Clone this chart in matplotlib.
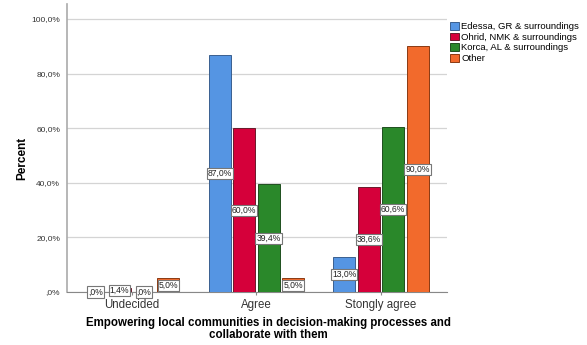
import matplotlib.pyplot as plt
import numpy as np

categories = ["Undecided", "Agree", "Stongly agree"]
series_names = ["Edessa, GR & surroundings", "Ohrid, NMK & surroundings",
                "Korca, AL & surroundings", "Other"]
edessa = [0.0, 87.0, 13.0]
ohrid = [1.4, 60.0, 38.6]
korca = [0.0, 39.4, 60.6]
other = [5.0, 5.0, 90.0]
yticks = [0, 20, 40, 60, 80, 100]
ytick_labels = [",0%", "20,0%", "40,0%", "60,0%", "80,0%", "100,0%"]

colors = ["#5595E3", "#D5003A", "#2A882A", "#F26A2C"]
edge_colors = ["#3a5f8f", "#6a1a2a", "#1f4f1f", "#8a3a12"]
series = [edessa, ohrid, korca, other]

plt.rcParams["font.family"] = ["Liberation Sans", "DejaVu Sans"]

fig = plt.figure(figsize=(5.87, 3.45), dpi=100)
ax = fig.add_axes([67 / 587, 1 - 292 / 345, (447 - 67) / 587, (292 - 4) / 345])

x = np.arange(len(categories))
width = 0.176
step = 0.196
for i, (vals, col) in enumerate(zip(series, colors)):
    pos = x + (i - 1.5) * step
    ax.bar(pos, vals, width=width, color=col, edgecolor=edge_colors[i],
           linewidth=0.7, label=series_names[i], zorder=3)
    for p, v in zip(pos, vals):
        txt = f"{v:.1f}".replace(".", ",") + "%"
        if v == 0:
            txt = ",0%"
        ax.text(p, v / 2, txt, ha="center", va="center", fontsize=6.2,
                color="#222222", zorder=5,
                bbox=dict(boxstyle="square,pad=0.12", fc="white",
                          ec="#777777", lw=0.8))

ax.set_xlim(-0.52, 2.53)
ax.set_ylim(0, 105.5)
ax.set_yticks(yticks)
ax.set_yticklabels(ytick_labels, fontsize=6.0, color="#333333")
ax.set_xticks(x)
ax.set_xticklabels(categories, fontsize=8.3, color="#333333")
ax.tick_params(axis="y", length=0, pad=5)
ax.tick_params(axis="x", length=2, color="#888888", pad=3)
ax.yaxis.grid(True, color="#d4d4d4", linewidth=0.9, zorder=0)
ax.set_axisbelow(True)
for s in ["top", "right"]:
    ax.spines[s].set_visible(False)
ax.spines["left"].set_color("#aaaaaa")
ax.spines["left"].set_linewidth(1.2)
ax.spines["bottom"].set_color("#888888")

fig.text(22 / 587, 1 - 158 / 345, "Percent", rotation=90, ha="center",
         va="center", fontsize=8.5, fontweight="bold")
fig.text(268 / 587, 1 - 329 / 345,
         "Empowering local communities in decision-making processes and\ncollaborate with them",
         ha="center", va="center", fontsize=8.3, fontweight="bold",
         linespacing=1.1)

leg = ax.legend(loc="upper left", bbox_to_anchor=(450 / 587, 1 - 22 / 345),
                bbox_transform=fig.transFigure, frameon=False, fontsize=6.8,
                handlelength=0.9, handleheight=0.9, handletextpad=0.3,
                labelspacing=0.15, borderaxespad=0, borderpad=0)

fig.savefig("out.png", dpi=100)
